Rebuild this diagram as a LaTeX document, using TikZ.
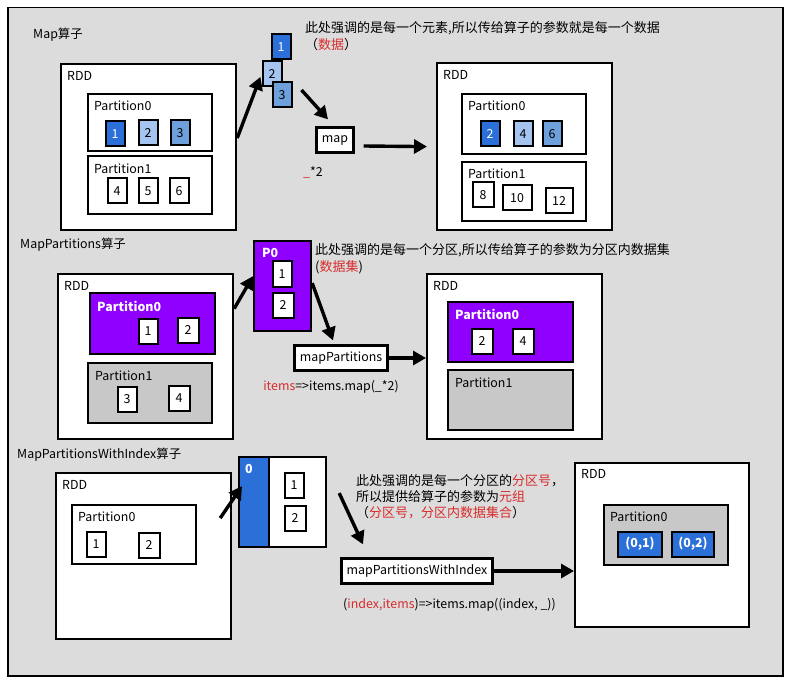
\documentclass[tikz,border=0pt]{standalone}
\usepackage{fontspec}
\setmainfont{Noto Sans CJK SC}
\usetikzlibrary{arrows.meta}
\definecolor{bgray}{HTML}{DCDCDC}
\definecolor{dblue}{HTML}{2B6FD9}
\definecolor{lblue}{HTML}{A5C5F0}
\definecolor{mblue}{HTML}{6EA0DC}
\definecolor{purp}{HTML}{8F00FF}
\definecolor{pgray}{HTML}{C8C8C8}
\definecolor{tred}{HTML}{D92B2B}
\newcommand\lf{\fontsize{12.4pt}{15pt}\selectfont}
\newcommand\cf{\fontsize{13pt}{16pt}\selectfont}
\tikzset{
  frame/.style={draw=black, line width=1.5pt, fill=bgray, inner sep=0, anchor=north west},
  box/.style={draw=black, line width=2.2pt, fill=white, inner sep=0, anchor=north west},
  graybox/.style={box, fill=pgray},
  purpbox/.style={box, fill=purp},
  bluebox/.style={box, fill=dblue},
  sq/.style={draw=black, line width=2pt, fill=white, inner sep=0, minimum width=19, minimum height=25, font=\lf},
  sqd/.style={sq, fill=dblue, text=white},
  sql/.style={sq, fill=lblue},
  sqm/.style={sq, fill=mblue},
  tup/.style={sq, fill=dblue, text=white, font=\lf\bfseries, minimum width=43},
  fn/.style={draw=black, line width=2.2pt, fill=white, inner sep=0, minimum height=25, font=\lf},
  lbl/.style={anchor=west, inner sep=0, font=\lf},
  wlbl/.style={lbl, text=white, font=\lf\bfseries},
  note/.style={anchor=west, inner sep=0, font=\cf},
  arr/.style={line width=3.4pt, -{Triangle[length=13pt,width=14pt]}},
}
\begin{document}
\begin{tikzpicture}[x=1pt,y=-1pt]
\useasboundingbox (0,0) rectangle (791,684);
\fill[white] (0,0) rectangle (791,684);
\node[frame, minimum width=775, minimum height=668] (frame) at (7,7) {};

% ---------- Section 1: Map ----------
\node[lbl] (t1) at (33,35) {Map算子};
\node[box, minimum width=175, minimum height=166] (rdd1) at (60,63) {};
\node[lbl] (r1) at (67,76) {RDD};
\node[box, minimum width=124, minimum height=57] (p0a) at (87,93) {};
\node[lbl] (p0al) at (94,106) {Partition0};
\node[sqd] (a1) at (115,134) {1};
\node[sql] (a2) at (148,133) {2};
\node[sqm] (a3) at (180,133) {3};
\node[box, minimum width=124, minimum height=58] (p1a) at (87,155) {};
\node[lbl] (p1al) at (94,169) {Partition1};
\node[sq] (a4) at (117,191) {4};
\node[sq] (a5) at (148,191) {5};
\node[sq] (a6) at (179,191) {6};

\node[sqd] (f1) at (281,47) {1};
\node[sql] (f2) at (272,74) {2};
\node[sqm] (f3) at (282,95) {3};
\node[fn, minimum width=37] (map) at (335,140) {map};
\node[lbl] (mapc) at (303,172) {\textcolor{tred}{\_}*2};

\node[note] (n1a) at (305,28) {此处强调的是每一个元素,所以传给算子的参数就是每一个数据};
\node[note] (n1b) at (305,45) {（\textcolor{tred}{数据}）};

\node[box, minimum width=175, minimum height=167] (rdd2) at (436,62) {};
\node[lbl] (r2) at (443,75) {RDD};
\node[box, minimum width=124, minimum height=60] (p0b) at (461,93) {};
\node[lbl] (p0bl) at (468,106) {Partition0};
\node[sqd] (b2) at (490,134) {2};
\node[sql] (b4) at (523,134) {4};
\node[sqm] (b6) at (552,134) {6};
\node[box, minimum width=124, minimum height=59] (p1b) at (461,161) {};
\node[lbl] (p1bl) at (468,174) {Partition1};
\node[sq, minimum width=21] (b8) at (483,195) {8};
\node[sq, minimum width=29] (b10) at (517,198) {10};
\node[sq, minimum width=27] (b12) at (559,201) {12};

\draw[arr, shorten >=3pt] ([yshift=9pt]rdd1.east) -- (f2.west);
\draw[arr] ([xshift=9pt,yshift=5pt]f3.east) -- ([xshift=-7pt,yshift=7pt]map.north);
\draw[arr] ([xshift=9pt,yshift=-6pt]map.east) -- ([xshift=-9pt]rdd2.west);

% ---------- Section 2: MapPartitions ----------
\node[lbl] (t2) at (20,245) {MapPartitions算子};
\node[box, minimum width=175, minimum height=165] (rdd3) at (57,273) {};
\node[lbl] (r3) at (64,286) {RDD};
\node[purpbox, minimum width=125, minimum height=61] (p0c) at (89,292) {};
\node[wlbl] (p0cl) at (97,306) {Partition0};
\node[sq] (c1) at (148,331) {1};
\node[sq, minimum width=21] (c2) at (188,330) {2};
\node[graybox, minimum width=124, minimum height=60] (p1c) at (87,362) {};
\node[lbl] (p1cl) at (95,376) {Partition1};
\node[sq] (c3) at (127,399) {3};
\node[sq, minimum width=21] (c4) at (179,398) {4};

\node[purpbox, minimum width=57, minimum height=90] (pz) at (253,240) {};
\node[wlbl] (pzl) at (262,253) {P0};
\node[sq] (z1) at (282,274) {1};
\node[sq, minimum width=21] (z2) at (283,305) {2};
\node[fn, minimum width=93] (mp) at (341,358) {mapPartitions};
\node[lbl, anchor=center] (mpc) at (331,387) {\textcolor{tred}{items}=>items.map(\_*2)};

\node[note] (n2a) at (315,250) {此处强调的是每一个分区,所以传给算子的参数为分区内数据集};
\node[note] (n2b) at (315,267) {(\textcolor{tred}{数据集})};

\node[box, minimum width=175, minimum height=165] (rdd4) at (426,273) {};
\node[lbl] (r4) at (433,286) {RDD};
\node[purpbox, minimum width=125, minimum height=60] (p0d) at (447,301) {};
\node[wlbl] (p0dl) at (455,314) {Partition0};
\node[sq, minimum width=21] (d2) at (482,341) {2};
\node[sq, minimum width=21] (d4) at (523,341) {4};
\node[graybox, minimum width=125, minimum height=60] (p1d) at (447,369) {};
\node[lbl] (p1dl) at (455,383) {Partition1};

\draw[arr] ([yshift=48pt]rdd3.east) -- ([yshift=10pt]pz.west);
\draw[arr] ([yshift=3pt]pz.east) -- ([xshift=-8pt,yshift=4pt]mp.north);
\draw[arr] (mp.east) -- (mp.east -| rdd4.west);

% ---------- Section 3: MapPartitionsWithIndex ----------
\node[lbl] (t3) at (17,455) {MapPartitionsWithIndex算子};
\node[box, minimum width=175, minimum height=166] (rdd5) at (55,472) {};
\node[lbl] (r5) at (62,485) {RDD};
\node[box, minimum width=124, minimum height=59] (p0e) at (71,504) {};
\node[lbl] (p0el) at (78,517) {Partition0};
\node[sq] (e1) at (96,544) {1};
\node[sq, minimum width=21] (e2) at (149,545) {2};

\node[bluebox, minimum width=30, minimum height=90] (ib) at (238,456) {};
\node[wlbl] (ibl) at (245,469) {0};
\node[box, minimum width=57, minimum height=90] (iw) at (268,456) {};
\node[sq] (w1) at (294,485) {1};
\node[sq, minimum width=21] (w2) at (295,518) {2};
\node[fn, minimum width=151] (mpwi) at (417,571) {mapPartitionsWithIndex};
\node[lbl] (mpwic) at (343,605) {(\textcolor{tred}{index,items})=>items.map((index, \_))};

\node[note] (n3a) at (356,481) {此处强调的是每一个分区的\textcolor{tred}{分区号}，};
\node[note] (n3b) at (356,497) {所以提供给算子的参数为\textcolor{tred}{元组}};
\node[note] (n3c) at (356,513) {（\textcolor{tred}{分区号，分区内数据集合}）};

\node[box, minimum width=174, minimum height=164] (rdd6) at (574,462) {};
\node[lbl] (r6) at (581,474) {RDD};
\node[graybox, minimum width=124, minimum height=60] (p0f) at (603,504) {};
\node[lbl] (p0fl) at (610,517) {Partition0};
\node[tup, minimum width=44] (g1) at (640,544) {(0,1)};
\node[tup, minimum width=42] (g2) at (693,544) {(0,2)};

\draw[arr] ([xshift=-12pt,yshift=38pt]rdd5.east) -- ([xshift=4pt,yshift=16pt]ib.west);
\draw[arr] ([xshift=12pt,yshift=9pt]iw.east) -- ([xshift=-54pt,yshift=13pt]mpwi.north);
\draw[arr] (mpwi.east) -- (mpwi.east -| rdd6.west);
\end{tikzpicture}
\end{document}
